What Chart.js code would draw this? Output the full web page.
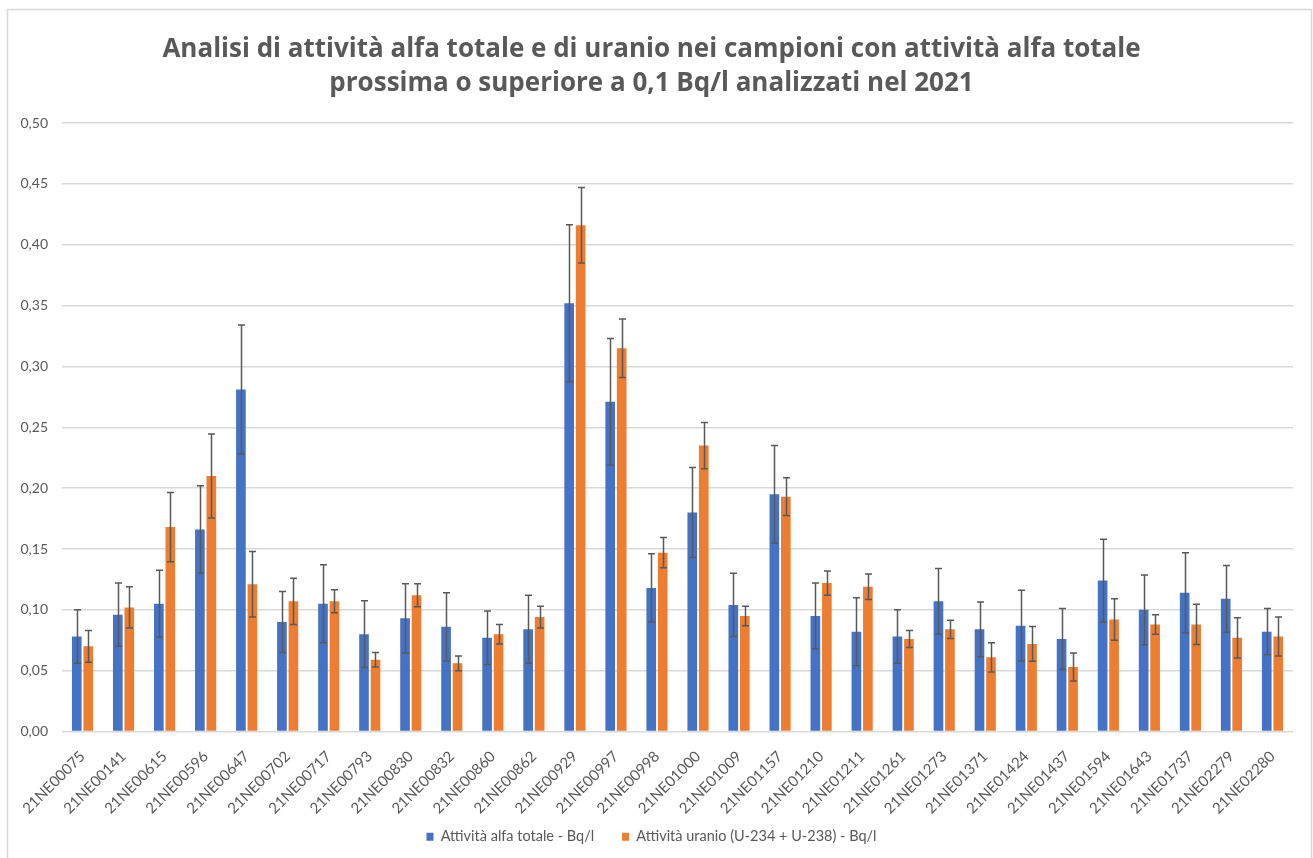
<!DOCTYPE html>
<html>
<head>
<meta charset="utf-8">
<script src="https://cdn.jsdelivr.net/npm/chart.js@4.4.1/dist/chart.umd.min.js"></script>
<style>
  html, body { margin: 0; padding: 0; background: #ffffff; }
  #wrap { position: relative; width: 1313px; height: 858px; }
</style>
</head>
<body>
<div id="wrap"><canvas id="c" width="1313" height="858"></canvas></div>
<script>
const categories = ["21NE00075","21NE00141","21NE00615","21NE00596","21NE00647","21NE00702","21NE00717","21NE00793","21NE00830","21NE00832","21NE00860","21NE00862","21NE00929","21NE00997","21NE00998","21NE01000","21NE01009","21NE01157","21NE01210","21NE01211","21NE01261","21NE01273","21NE01371","21NE01424","21NE01437","21NE01594","21NE01643","21NE01737","21NE02279","21NE02280"];

const alfaTotale = [0.078,0.096,0.105,0.166,0.281,0.090,0.105,0.080,0.093,0.086,0.077,0.084,0.352,0.271,0.118,0.180,0.104,0.195,0.095,0.082,0.078,0.107,0.084,0.087,0.076,0.124,0.100,0.114,0.109,0.082];
const alfaTotaleErr = [0.022,0.026,0.0275,0.036,0.053,0.025,0.032,0.0275,0.0285,0.028,0.022,0.028,0.0645,0.052,0.028,0.037,0.026,0.040,0.027,0.028,0.022,0.027,0.0225,0.029,0.025,0.034,0.0287,0.033,0.0275,0.019];

const uranio = [0.070,0.102,0.168,0.210,0.121,0.107,0.107,0.059,0.112,0.056,0.080,0.094,0.416,0.315,0.147,0.235,0.095,0.193,0.122,0.119,0.076,0.084,0.061,0.072,0.053,0.092,0.088,0.088,0.077,0.078];
const uranioErr = [0.013,0.017,0.0285,0.0345,0.027,0.019,0.0095,0.006,0.0095,0.006,0.008,0.009,0.031,0.024,0.0125,0.019,0.008,0.0155,0.010,0.0105,0.007,0.0075,0.012,0.0143,0.0115,0.017,0.008,0.0166,0.0165,0.016];

const yTicks = [0,0.05,0.10,0.15,0.20,0.25,0.30,0.35,0.40,0.45,0.50];

const seriesNames = ["Attività alfa totale - Bq/l", "Attività uranio (U-234 + U-238) - Bq/l"];
const titleLines = ["Analisi di attività alfa totale e di uranio nei campioni con attività alfa totale", "prossima o superiore a 0,1 Bq/l analizzati nel 2021"];

const errorBarPlugin = {
  id: 'errorBars',
  afterDatasetsDraw(chart) {
    const ctx = chart.ctx;
    const yScale = chart.scales.y;
    ctx.save();
    ctx.strokeStyle = '#595959';
    ctx.lineWidth = 1.5;
    chart.data.datasets.forEach((ds, i) => {
      const meta = chart.getDatasetMeta(i);
      if (meta.hidden) return;
      meta.data.forEach((el, j) => {
        const v = ds.data[j], e = ds.errors[j];
        const x = Math.round(el.x) + 0.5;
        const yt = yScale.getPixelForValue(v + e);
        const yb = yScale.getPixelForValue(v - e);
        ctx.beginPath();
        ctx.moveTo(x, yt); ctx.lineTo(x, yb);
        ctx.moveTo(x - 3.5, yt); ctx.lineTo(x + 3.5, yt);
        ctx.moveTo(x - 3.5, yb); ctx.lineTo(x + 3.5, yb);
        ctx.stroke();
      });
    });
    ctx.restore();
  }
};

const framePlugin = {
  id: 'frame',
  beforeDraw(chart) {
    const ctx = chart.ctx;
    ctx.save();
    ctx.fillStyle = '#ffffff';
    ctx.fillRect(0, 0, chart.width, chart.height);
    ctx.strokeStyle = '#d9d9d9';
    ctx.lineWidth = 1.5;
    ctx.strokeRect(7.5, 9.5, 1304, 860);
    ctx.restore();
  }
};

new Chart(document.getElementById('c'), {
  type: 'bar',
  data: {
    labels: categories,
    datasets: [
      { label: seriesNames[0], data: alfaTotale, errors: alfaTotaleErr, backgroundColor: '#4472c4', borderWidth: 0, categoryPercentage: 0.56, barPercentage: 0.84 },
      { label: seriesNames[1], data: uranio, errors: uranioErr, backgroundColor: '#ed7d31', borderWidth: 0, categoryPercentage: 0.56, barPercentage: 0.84 }
    ]
  },
  options: {
    responsive: false,
    animation: false,
    layout: { padding: { left: 10, right: 20, top: 10, bottom: 4 } },
    plugins: {
      title: {
        display: true,
        text: titleLines,
        color: '#595959',
        font: { family: 'Open Sans', size: 26, weight: 'bold', lineHeight: 1.31 },
        padding: { top: 23, bottom: 22 }
      },
      legend: {
        position: 'bottom',
        labels: {
          color: '#595959',
          font: { family: 'Lato', size: 14.5 },
          boxWidth: 7, boxHeight: 8,
          padding: 13,
          generateLabels(chart) {
            const items = Chart.defaults.plugins.legend.labels.generateLabels(chart);
            items.forEach((it, i) => { if (i < items.length - 1) it.text = it.text + '    '; });
            return items;
          }
        }
      },
      tooltip: { enabled: false }
    },
    scales: {
      x: {
        grid: { display: false, drawTicks: false },
        border: { display: false },
        ticks: { color: '#595959', font: { family: 'Lato', size: 15 }, minRotation: 45, maxRotation: 45, autoSkip: false, padding: 16 },
        afterFit(scale) { scale.height = 85; }
      },
      y: {
        min: 0, max: 0.5,
        afterBuildTicks(scale) { scale.ticks = yTicks.map(v => ({ value: v })); },
        grid: { color: '#d9d9d9', lineWidth: 1.5, drawTicks: false },
        border: { display: false },
        ticks: {
          color: '#595959', font: { family: 'Lato', size: 14 }, padding: 14,
          callback: (v) => Number(v).toFixed(2).replace('.', ',')
        },
        afterFit(scale) { scale.width = 52; }
      }
    }
  },
  plugins: [framePlugin, errorBarPlugin]
});
</script>
</body>
</html>
